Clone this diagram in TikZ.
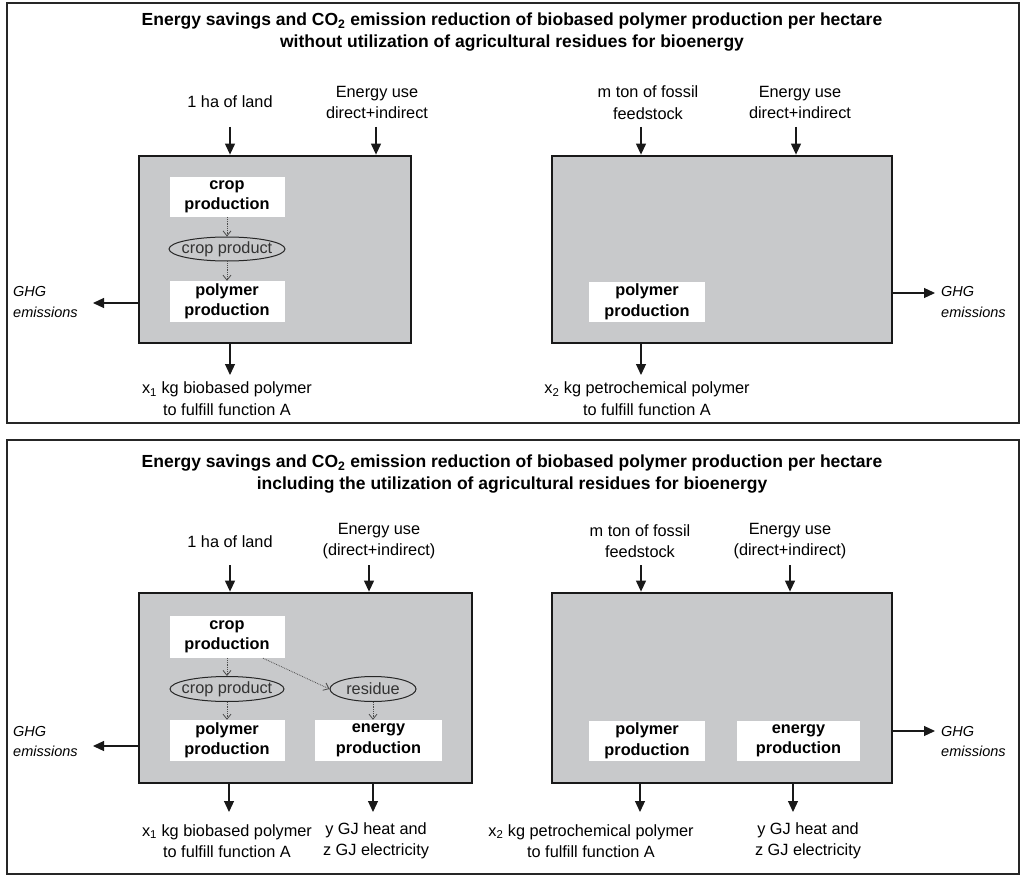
\documentclass[tikz,border=0pt]{standalone}
\usepackage{fontspec}
\setmainfont{Liberation Sans}
\usetikzlibrary{arrows.meta,shapes.geometric}
\definecolor{boxgray}{RGB}{200,201,203}
\begin{document}
\begin{tikzpicture}[x=1pt,y=-1pt,
  every node/.style={font=\fontsize{16.3}{21.5}\selectfont, inner sep=0pt, align=center},
  frame/.style={draw=black!85, line width=1.5pt},
  bigbox/.style={draw=black!90, line width=2.8pt, fill=boxgray},
  wbox/.style={fill=white, font=\fontsize{16.3}{20.5}\selectfont\bfseries},
  oval/.style={ellipse, draw=black!85, line width=1pt},
  ovaltext/.style={text=black!80},
  arr/.style={draw=black!90, line width=1.2pt, -{Triangle[length=11pt,width=10pt]}},
  dot/.style={draw=black!70, densely dotted, line width=0.8pt, -{Straight Barb[length=5pt,width=8pt]}},
  title/.style={font=\fontsize{17.5}{22}\selectfont\bfseries},
  ghg/.style={font=\fontsize{14.5}{20.5}\selectfont\itshape, align=left, anchor=west}
]
\useasboundingbox (0,0) rectangle (1025,877);

% ---------------- top panel ----------------
\node[frame, minimum width=1012, minimum height=420] (P1) at (513,213) {};
\node[title] (T1) at (512,32) {Energy savings and CO\textsubscript{2} emission reduction of biobased polymer production per hectare\\without utilization of agricultural residues for bioenergy};

\node (in1) at (230,102) {1 ha of land};
\node (in2) at (377,102.5) {Energy use\\direct+indirect};
\node (in3) at (648,102.5) {m ton of fossil\\feedstock};
\node (in4) at (800,102.5) {Energy use\\direct+indirect};

\node[bigbox, minimum width=272, minimum height=187] (L1) at (275,249.5) {};
\node[bigbox, minimum width=340, minimum height=187] (R1) at (722,249.5) {};

\coordinate (a1) at (230,127);
\coordinate (a2) at (376,127);
\coordinate (a3) at (641,127);
\coordinate (a4) at (796,127);
\draw[arr] (a1) -- (a1 |- L1.north);
\draw[arr] (a2) -- (a2 |- L1.north);
\draw[arr] (a3) -- (a3 |- R1.north);
\draw[arr] (a4) -- (a4 |- R1.north);

\node[wbox, minimum width=115, minimum height=40] (cp1) at (227,197) {crop\\production};
\node[oval, minimum width=116, minimum height=24] (prod1) at (227,249) {};
\node[ovaltext] (prod1t) at (prod1.center) {crop product};
\node[wbox, minimum width=115, minimum height=41] (pp1) at (227,301.5) {polymer\\production};
\draw[dot] (cp1.south) -- (prod1.north);
\draw[dot] (prod1.south) -- (pp1.north);

\node[wbox, minimum width=116, minimum height=40] (pp2) at (647,302) {polymer\\production};

\coordinate (o1) at (230,375);
\coordinate (o2) at (641,375);
\draw[arr] (L1.south -| o1) -- (o1);
\draw[arr] (R1.south -| o2) -- (o2);
\node (to1) at (227,398.5) {x\textsubscript{1} kg biobased polymer\\to fulfill function A};
\node (to2) at (647,398.5) {x\textsubscript{2} kg petrochemical polymer\\to fulfill function A};

\coordinate (g1) at (93,303);
\coordinate (g2) at (935,293);
\draw[arr] (g1 -| L1.west) -- (g1);
\draw[arr] (g2 -| R1.east) -- (g2);
\node[ghg] (G1) at (13,302) {GHG\\emissions};
\node[ghg] (G2) at (941,302) {GHG\\emissions};

% ---------------- bottom panel ----------------
\node[frame, minimum width=1012, minimum height=434] (P2) at (513,657) {};
\node[title] (T2) at (512,474) {Energy savings and CO\textsubscript{2} emission reduction of biobased polymer production per hectare\\including the utilization of agricultural residues for bioenergy};

\node (in5) at (230,542) {1 ha of land};
\node (in6) at (379,541) {Energy use\\(direct+indirect)};
\node (in7) at (640,541) {m ton of fossil\\feedstock};
\node (in8) at (790,541) {Energy use\\(direct+indirect)};

\node[bigbox, minimum width=333, minimum height=190] (L2) at (305.5,688) {};
\node[bigbox, minimum width=340, minimum height=190] (R2) at (722,688) {};

\coordinate (a5) at (230,565);
\coordinate (a6) at (369,565);
\coordinate (a7) at (641,565);
\coordinate (a8) at (790,565);
\draw[arr] (a5) -- (a5 |- L2.north);
\draw[arr] (a6) -- (a6 |- L2.north);
\draw[arr] (a7) -- (a7 |- R2.north);
\draw[arr] (a8) -- (a8 |- R2.north);

\node[wbox, minimum width=115, minimum height=42] (cp2) at (227,637) {crop\\production};
\node[oval, minimum width=114, minimum height=25] (prod2) at (227,689) {};
\node[ovaltext] (prod2t) at (prod2.center) {crop product};
\node[oval, minimum width=86, minimum height=25] (res2) at (373,689) {};
\node[ovaltext] (res2t) at (res2.center) {residue};
\node[wbox, minimum width=115, minimum height=41] (pp3) at (227,740.5) {polymer\\production};
\node[wbox, minimum width=127, minimum height=41] (ep1) at (378.5,740.5) {energy\\production};
\draw[dot] (cp2.south) -- (prod2.north);
\draw[dot] (prod2.south) -- (pp3.north);
\draw[dot] ([xshift=36pt]cp2.south) -- (res2.west);
\draw[dot] (res2.south) -- (res2.south |- ep1.north);

\node[wbox, minimum width=116, minimum height=40] (pp4) at (647,741) {polymer\\production};
\node[wbox, minimum width=123, minimum height=40] (ep2) at (798.5,741) {energy\\production};

\coordinate (o3) at (229,812);
\coordinate (o4) at (373,812);
\coordinate (o5) at (640,812);
\coordinate (o6) at (793,812);
\draw[arr] (L2.south -| o3) -- (o3);
\draw[arr] (L2.south -| o4) -- (o4);
\draw[arr] (R2.south -| o5) -- (o5);
\draw[arr] (R2.south -| o6) -- (o6);
\node (to3) at (227,841) {x\textsubscript{1} kg biobased polymer\\to fulfill function A};
\node (to4) at (376,841) {y GJ heat and\\z GJ electricity};
\node (to5) at (591,841) {x\textsubscript{2} kg petrochemical polymer\\to fulfill function A};
\node (to6) at (808,841) {y GJ heat and\\z GJ electricity};

\coordinate (g3) at (93,746);
\coordinate (g4) at (935,731);
\draw[arr] (g3 -| L2.west) -- (g3);
\draw[arr] (g4 -| R2.east) -- (g4);
\node[ghg] (G3) at (13,741.5) {GHG\\emissions};
\node[ghg] (G4) at (941,741.5) {GHG\\emissions};
\end{tikzpicture}
\end{document}
